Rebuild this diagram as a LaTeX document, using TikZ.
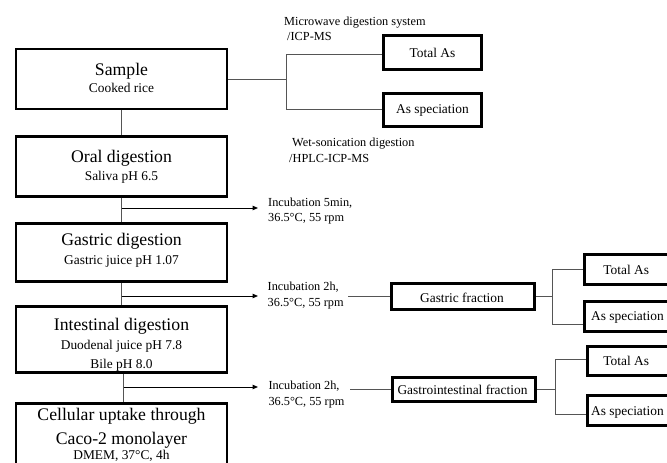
\documentclass[tikz,border=0pt]{standalone}
\usepackage{fontspec}
\setmainfont{Liberation Serif}
\usetikzlibrary{arrows.meta}
\definecolor{conncol}{RGB}{85,85,85}
\begin{document}
\begin{tikzpicture}[x=1pt,y=-1pt,
  box/.style={draw=black, line width=2.8pt, inner sep=0pt, rectangle},
  conn/.style={draw=conncol, line width=1pt},
  arr/.style={draw=black, line width=1pt, -{Triangle[length=5.5pt,width=4.5pt]}},
  head/.style={anchor=base, inner sep=0pt, font=\fontsize{17.7}{20}\selectfont},
  sub/.style={anchor=base, inner sep=0pt, font=\fontsize{13.4}{15}\selectfont},
  lbl/.style={anchor=base west, inner sep=0pt, font=\fontsize{12.3}{14}\selectfont}]
\useasboundingbox (0,0) rectangle (667,463);
\clip (0,0) rectangle (667,463);

% left column boxes
\node[box, minimum width=211pt, minimum height=60pt] (sample) at (121.5,79) {};
\node[box, minimum width=211pt, minimum height=60pt] (oral) at (121.5,166.5) {};
\node[box, minimum width=211pt, minimum height=58pt] (gastric) at (121.5,252.5) {};
\node[box, minimum width=211pt, minimum height=66pt] (intest) at (121.5,339.5) {};
\node[box, minimum width=211pt, minimum height=80pt] (cell) at (121.5,443.3) {};

\node[head] (sampleT) at (121.5,75) {Sample};
\node[sub] (sampleS) at (121.5,92) {Cooked rice};
\node[head] (oralT) at (121.5,162.7) {Oral digestion};
\node[sub] (oralS) at (121.5,180) {Saliva pH 6.5};
\node[head] (gastricT) at (121.5,245) {Gastric digestion};
\node[sub] (gastricS) at (121.5,264) {Gastric juice pH 1.07};
\node[head] (intestT) at (121.5,330) {Intestinal digestion};
\node[sub] (intestS1) at (121.5,349.3) {Duodenal juice pH 7.8};
\node[sub] (intestS2) at (121.5,368.5) {Bile pH 8.0};
\node[head] (cellT1) at (121.5,420.2) {Cellular uptake through};
\node[head] (cellT2) at (121.5,444) {Caco-2 monolayer};
\node[sub] (cellS) at (121.5,459.8) {DMEM, 37°C, 4h};

% vertical connectors
\draw[conn] (sample.south) -- (oral.north);
\draw[conn] (oral.south) -- (gastric.north);
\draw[conn] (gastric.south) -- (intest.north);
\draw[conn] ([xshift=2pt]intest.south) -- ([xshift=2pt]cell.north);

% top analysis branch
\node[box, minimum width=98.4pt, minimum height=34.4pt] (tot1) at (432.5,52.5) {};
\node[box, minimum width=98.4pt, minimum height=33.4pt] (spec1) at (432.5,110) {};
\node[sub] (tot1T) at (432.5,57.3) {Total As};
\node[sub] (spec1T) at (432.5,113) {As speciation};
\node[lbl] (mw1) at (284,25) {Microwave digestion system};
\node[lbl] (mw2) at (287,40) {/ICP-MS};
\node[lbl] (ws1) at (292,146.7) {Wet-sonication digestion};
\node[lbl] (ws2) at (289,162.7) {/HPLC-ICP-MS};
\coordinate (j1) at (286,79);
\coordinate (j1a) at (286,54);
\coordinate (j1b) at (286,109);
\draw[conn] (sample.east) -- (j1);
\draw[conn] (j1a) -- (j1b);
\draw[conn] (j1a) -- (tot1.west |- j1a);
\draw[conn] (j1b) -- (spec1.west |- j1b);

% incubation arrows
\coordinate (a1s) at (121.5,208);
\coordinate (a1e) at (258,208);
\coordinate (a2s) at (121.5,296);
\coordinate (a2e) at (258,296);
\coordinate (a3s) at (123.5,387);
\coordinate (a3e) at (258,387);
\draw[arr] (a1s) -- (a1e);
\draw[arr] (a2s) -- (a2e);
\draw[arr] (a3s) -- (a3e);
\node[lbl] (inc1a) at (268,206.7) {Incubation 5min,};
\node[lbl] (inc1b) at (268,221.5) {36.5°C, 55 rpm};
\node[lbl] (inc2a) at (267.5,290.5) {Incubation 2h,};
\node[lbl] (inc2b) at (267.5,306) {36.5°C, 55 rpm};
\node[lbl] (inc3a) at (268.3,389) {Incubation 2h,};
\node[lbl] (inc3b) at (268.3,405) {36.5°C, 55 rpm};

% gastric fraction
\node[box, minimum width=143.4pt, minimum height=26.4pt] (gfrac) at (463,296.5) {};
\node[sub] (gfracT) at (462,302.7) {Gastric fraction};
\node[box, minimum width=87.4pt, minimum height=30.4pt] (gtot) at (628,269.5) {};
\node[box, minimum width=87.4pt, minimum height=30.4pt] (gspec) at (628,316.5) {};
\node[sub] (gtotT) at (626.2,274) {Total As};
\node[sub] (gspecT) at (627.5,320.7) {As speciation};
\coordinate (g0) at (348,296.5);
\coordinate (gj) at (552,296.5);
\coordinate (gja) at (552,269.5);
\coordinate (gjb) at (552,324);
\draw[conn] (g0) -- (gfrac.west);
\draw[conn] (gfrac.east) -- (gj);
\draw[conn] (gja) -- (gjb);
\draw[conn] (gja) -- (gtot.west);
\draw[conn] (gjb) -- (gspec.west |- gjb);

% gastrointestinal fraction
\node[box, minimum width=143.4pt, minimum height=24.4pt] (gifrac) at (464,389.5) {};
\node[sub] (gifracT) at (462.5,394.3) {Gastrointestinal fraction};
\node[box, minimum width=85.4pt, minimum height=29.4pt] (gitot) at (630,361) {};
\node[box, minimum width=85.4pt, minimum height=30.4pt] (gispec) at (630,410.5) {};
\node[sub] (gitotT) at (626.2,365.7) {Total As};
\node[sub] (gispecT) at (627.5,415) {As speciation};
\coordinate (h0) at (350,389.5);
\coordinate (hj) at (555,389.5);
\coordinate (hja) at (555,359);
\coordinate (hjb) at (555,414);
\draw[conn] (h0) -- (gifrac.west);
\draw[conn] (gifrac.east) -- (hj);
\draw[conn] (hja) -- (hjb);
\draw[conn] (hja) -- (gitot.west |- hja);
\draw[conn] (hjb) -- (gispec.west |- hjb);
\end{tikzpicture}
\end{document}
